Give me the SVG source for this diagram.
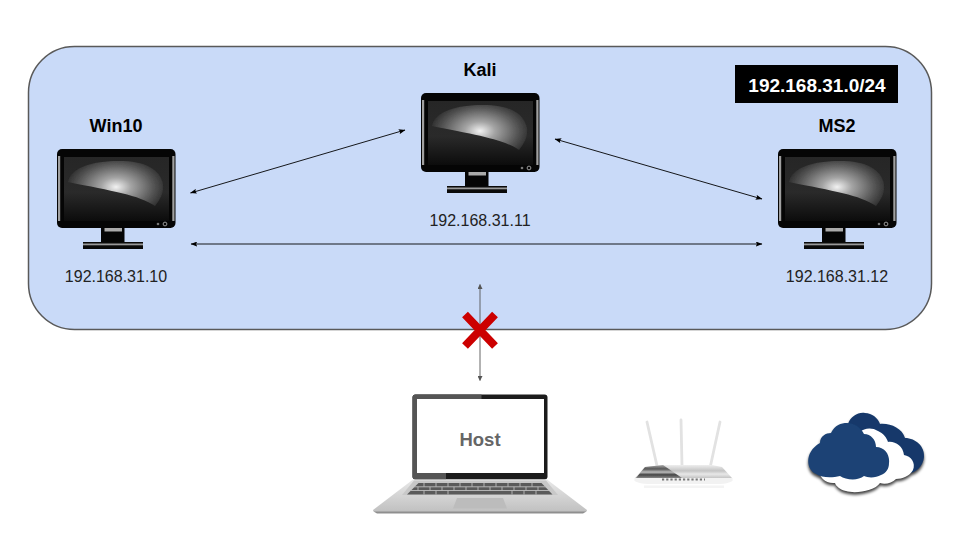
<svg xmlns="http://www.w3.org/2000/svg" width="960" height="540" viewBox="0 0 960 540">
<style>
text{font-family:"Liberation Sans",Arial,sans-serif;text-anchor:middle}
.t{font-size:18px;font-weight:700;fill:#000}
.ip{font-size:16px;fill:#222}
.c{fill:none;stroke:#000;stroke-width:.9;marker-start:url(#a);marker-end:url(#a)}
</style>
<defs>
<marker id="a" viewBox="0 0 8 6" refX="7.500" refY="3" markerWidth="7" markerHeight="5" orient="auto-start-reverse" markerUnits="userSpaceOnUse"><path d="M0 0L8 3L0 6L1.500 3Z" fill="#000"/></marker>
<marker id="g" viewBox="0 0 6 6" refX="5.500" refY="3" markerWidth="6" markerHeight="5" orient="auto-start-reverse" markerUnits="userSpaceOnUse"><path d="M0 0L6 3L0 6Z" fill="#555"/></marker>
<radialGradient id="glow" gradientUnits="userSpaceOnUse" cx="59" cy="38" r="50" gradientTransform="translate(59 38) scale(1 .62) translate(-59 -38)">
<stop offset="0" stop-color="#f2f2f2"/><stop offset=".3" stop-color="#a4a4a4"/><stop offset=".75" stop-color="#555"/><stop offset="1" stop-color="#2e2e2e"/></radialGradient>
<linearGradient id="scr" x1="0" x2="0" y1="0" y2="1"><stop offset="0" stop-color="#262626"/><stop offset=".55" stop-color="#2a2a2a"/><stop offset="1" stop-color="#0c0c0c"/></linearGradient>
<linearGradient id="lapb" x1="0" x2="0" y1="0" y2="1"><stop offset="0" stop-color="#e8e8e8"/><stop offset="1" stop-color="#c0c0c0"/></linearGradient>
<linearGradient id="rd" x1="0" x2="0" y1="0" y2="1"><stop offset="0" stop-color="#aaa"/><stop offset=".3" stop-color="#555"/><stop offset=".55" stop-color="#bbb"/><stop offset=".75" stop-color="#444"/><stop offset="1" stop-color="#888"/></linearGradient>
<linearGradient id="rl" x1="0" x2="0" y1="0" y2="1"><stop offset="0" stop-color="#eee"/><stop offset=".45" stop-color="#c4c4c4"/><stop offset=".7" stop-color="#e8e8e8"/><stop offset="1" stop-color="#c4c4c4"/></linearGradient>
<filter id="b1" x="-20%" y="-20%" width="140%" height="140%"><feGaussianBlur stdDeviation="1.800"/></filter>
<filter id="b2" x="-10%" y="-10%" width="120%" height="120%"><feGaussianBlur stdDeviation=".6"/></filter>
<filter id="b3" x="-10%" y="-10%" width="120%" height="120%"><feGaussianBlur stdDeviation=".4"/></filter>
<path id="cf" d="M816 474C806 470 804 452 820 443C820 436 826 433 831 433C835 425 841 423 847 423C855 423 861 428 864 434C871 434 876 440 876 447C885 447 890 455 889 463C889 469 886 473 881 475C876 478 868 478 864 476C858 481 846 480 840 476C832 478 822 478 816 474Z"/>
<path id="cw" d="M860 432C864 428 872 427 878 431C883 433 887 438 888 442C895 441 903 446 904 455C911 456 916 463 913 470C910 476 902 479 896 479C892 483 885 485 880 483C875 491 855 494 846 491C840 490 836 486 835 483C826 484 819 478 818 468Z"/>
<path id="cb" d="M848 424C851 416 858 412 865 413C872 413 878 418 880 424C890 423 902 428 905 438C916 438 925 447 924 457C923 467 916 472 908 474L880 460Z"/>
<g id="mon">
<rect x="0" y="0" width="118.500" height="79" rx="5" fill="#050505"/>
<g filter="url(#b3)"><rect x="1" y="7" width="2.200" height="65" fill="#a0a0a0"/><rect x="115.300" y="7" width="2.200" height="65" fill="#a0a0a0"/></g>
<rect x="7" y="8" width="105" height="64" fill="url(#scr)"/>
<g filter="url(#b3)"><path d="M11 33C14 18 36 12 62 12C88 12 103 20 106 35C107 44 103 51 98 57C82 46 55 42 11 33Z" fill="url(#glow)"/></g>
<circle cx="101" cy="75" r="1.300" fill="#777"/><circle cx="108" cy="75" r="1.900" fill="none" stroke="#999"/>
<rect x="44" y="79" width="23.500" height="15" fill="#050505"/>
<rect x="47.500" y="79" width="17.500" height="3.500" fill="#aaa"/>
<rect x="26" y="93" width="60" height="7" fill="#0a0a0a"/>
<rect x="26" y="94.500" width="60" height="1.800" fill="#999"/>
</g>
</defs>
<rect width="960" height="540" fill="#fff"/>
<rect x="28.500" y="46.500" width="903" height="283" rx="46" fill="#c9daf8" stroke="#595959" stroke-width="1.500"/>
<rect x="735" y="65" width="163" height="38" fill="#000"/>
<text x="817" y="91.500" font-size="19" font-weight="700" fill="#fff">192.168.31.0/24</text>
<g id="connectors">
<path class="c" d="M190.500 193L405 130"/>
<path class="c" d="M555 139L762 199"/>
<path class="c" d="M191 244H762"/>
<path d="M480 284.500V380.500" fill="none" stroke="#555" stroke-width=".9" marker-start="url(#g)" marker-end="url(#g)"/>
</g>
<g id="win10"><text class="t" x="116" y="132">Win10</text><use href="#mon" x="57" y="149"/><text class="ip" x="116" y="282">192.168.31.10</text></g>
<g id="kali"><text class="t" x="480" y="76">Kali</text><use href="#mon" x="421" y="93"/><text class="ip" x="480" y="226">192.168.31.11</text></g>
<g id="ms2"><text class="t" x="837" y="132">MS2</text><use href="#mon" x="778" y="149"/><text class="ip" x="837" y="282">192.168.31.12</text></g>
<g id="block"><path d="M465 314.500L495 346M495 314.500L465 346" stroke="#cc0000" stroke-width="8" fill="none"/></g>
<g id="host">
<rect x="412.500" y="394.500" width="135" height="85" rx="3" fill="#1c1c1c"/>
<path d="M412.500 397.500a3 3 0 0 1 3-3H481.500V399H417V473H446V479.500H415.500a3 3 0 0 1-3-3Z" fill="#555"/>
<rect x="417" y="399" width="127" height="74" fill="#fff"/>
<g filter="url(#b3)">
<path d="M413 479.500H547L587 510Q587 512 584 512H376Q373 512 373 510Z" fill="url(#lapb)"/>
<path d="M373.500 511.500H586.500L583 513.500H377Z" fill="#8f8f8f"/>
<path d="M414 480.500H546L558 495H402Z" fill="#c8c8c8"/>
<path d="M418.500 483H541.500L552.500 494.500H407Z" fill="#5a5a5a"/>
<g stroke="#bdbdbd" stroke-width=".9" fill="none"><path d="M414 486.800H546"/><path d="M411 490.500H549"/><path d="M424 483V486.800M436 483V486.800M448 483V486.800M460 483V486.800M472 483V486.800M484 483V486.800M496 483V486.800M508 483V486.800M520 483V486.800M532 483V486.800M418 486.800V490.500M430 486.800V490.500M442 486.800V490.500M454 486.800V490.500M466 486.800V490.500M478 486.800V490.500M490 486.800V490.500M502 486.800V490.500M514 486.800V490.500M526 486.800V490.500M538 486.800V490.500M424 490.500V494.500M436 490.500V494.500M448 490.500V494.500M512 490.500V494.500M524 490.500V494.500M536 490.500V494.500"/></g>
<path d="M457 498H503L507 508.500H453Z" fill="#bcbcbc"/>
</g>
<text x="480" y="446" font-size="18.500" font-weight="700" fill="#666">Host</text>
</g>
<g id="router" filter="url(#b2)">
<g stroke="#e2e2e2" stroke-width="2.800" stroke-linecap="round" fill="none"><path d="M647 422L657.500 468"/><path d="M681 420L682 466"/><path d="M720 422L710 468"/></g>
<path d="M635 478L645 467L663 465H712L722 467L732 478Z" fill="url(#rl)"/>
<path d="M645 467L663 465L682 478H636Z" fill="url(#rd)"/>
<path d="M634.500 478H732.500V481Q727 484 720 484H648Q640 484 634.500 481Z" fill="#f2f2f2"/>
<path d="M644 485.500H724V488H644Z" fill="#f4f4f4"/>
<path d="M662 479.500H705" stroke="#777" stroke-width="1.800" stroke-dasharray="2.200 2"/>
</g>
<g id="cloud">
<g fill="#000" opacity=".75" filter="url(#b1)" transform="translate(0 2.500)"><use href="#cf"/><use href="#cw"/><use href="#cb"/></g>
<g filter="url(#b3)">
<use href="#cb" fill="#15396b"/>
<use href="#cw" fill="#fff"/>
<use href="#cf" fill="#1b4375"/>
</g>
</g>
</svg>
